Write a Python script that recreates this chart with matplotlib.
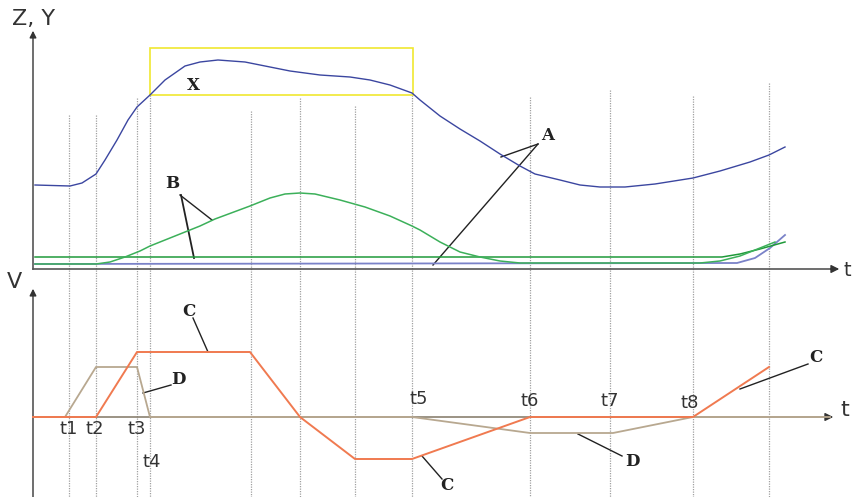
import numpy as np
import matplotlib
matplotlib.use("Agg")
import matplotlib.pyplot as plt

# time markers (pixel-scale x) and where each dotted guide starts
t_marks = [69, 96, 137, 150, 251, 300, 355, 412, 530, 610, 693, 769]
t_tops = [115, 115, 98, 95, 111, 98, 106, 95, 97, 90, 96, 83]

# upper panel curves (x, y)
x_curve_x = [35, 70, 82, 96, 105, 117, 128, 137, 150, 165, 185, 200, 218, 245, 270, 290,
             320, 350, 370, 390, 412, 420, 430, 440, 460, 480, 500, 520, 535, 560, 580,
             600, 625, 655, 693, 720, 750, 769, 785]
x_curve_y = [185, 186, 183, 174, 160, 140, 120, 107, 95, 80, 66, 62, 60, 62, 67, 71,
             75, 77, 80, 85, 93, 100, 108, 116, 129, 141, 154, 166, 174, 180, 185,
             187, 187, 184, 178, 171, 162, 155, 147]

b_curve_x = [35, 96, 110, 125, 140, 150, 175, 200, 215, 250, 270, 285, 300, 315, 340, 365,
             390, 412, 420, 440, 460, 480, 500, 520, 700, 720, 740, 760, 775]
b_curve_y = [264, 264, 262, 257, 251, 246, 236, 226, 219, 206, 198, 194, 193, 194, 200, 207,
             216, 226, 230, 242, 252, 257, 261, 263, 263, 261, 256, 248, 242]

b_flat_x = [35, 722, 740, 760, 785]
b_flat_y = [257, 257, 254, 249, 242]

a_flat_x = [35, 737, 755, 770, 785]
a_flat_y = [264, 263, 258, 248, 235]

# lower panel speed profiles
c_x = [33, 96, 137, 250, 300, 355, 412, 530, 693, 769]
c_y = [417, 417, 352, 352, 417, 459, 459, 417, 417, 367]
d_x = [33, 65, 96, 137, 150, 412, 530, 613, 693, 830]
d_y = [417, 417, 367, 367, 417, 417, 433, 433, 417, 417]

t_labels = ["t1", "t2", "t3", "t4", "t5", "t6", "t7", "t8"]
t_label_x = [69, 95, 137, 152, 419, 530, 610, 690]
t_label_y = [429, 429, 429, 462, 399, 401, 401, 403]

fig = plt.figure(figsize=(8.54, 4.97), dpi=100)
ax = fig.add_axes([0, 0, 1, 1])
ax.set_xlim(0, 854)
ax.set_ylim(497, 0)
ax.axis("off")

for x, top in zip(t_marks, t_tops):
    ax.plot([x, x], [top, 497], color="#a0a0a0", lw=0.9, ls=(0, (1, 1)), zorder=1)

# axes with arrows
axis_col = "#555555"
ax.plot([33, 33], [269, 35], color=axis_col, lw=1.2)
ax.annotate("", xy=(33, 28), xytext=(33, 40),
            arrowprops=dict(arrowstyle="-|>", color="#333333", lw=1.0, mutation_scale=10))
ax.plot([33, 832], [269, 269], color=axis_col, lw=1.2)
ax.annotate("", xy=(842, 269), xytext=(828, 269),
            arrowprops=dict(arrowstyle="-|>", color="#333333", lw=1.0, mutation_scale=12))
ax.plot([33, 33], [497, 293], color=axis_col, lw=1.2)
ax.annotate("", xy=(33, 286), xytext=(33, 298),
            arrowprops=dict(arrowstyle="-|>", color="#333333", lw=1.0, mutation_scale=10))
ax.plot([33, 826], [417, 417], color="#8a8070", lw=1.2)
ax.annotate("", xy=(836, 417), xytext=(822, 417),
            arrowprops=dict(arrowstyle="-|>", color="#333333", lw=1.0, mutation_scale=12))

ax.text(12, 19, "Z, Y", fontsize=16, color="#333333", va="center", ha="left")
ax.text(844, 270, "t", fontsize=14, color="#333333", va="center", ha="left")
ax.text(7, 282, "V", fontsize=16, color="#333333", va="center", ha="left")
ax.text(840, 410, "t", fontsize=16, color="#333333", va="center", ha="left")

# upper curves
ax.plot(a_flat_x, a_flat_y, color="#7a82c8", lw=1.3, zorder=3)
ax.plot(b_flat_x, b_flat_y, color="#1f9a3a", lw=1.1, zorder=3)
ax.plot(b_curve_x, b_curve_y, color="#3cb05a", lw=1.1, zorder=3)
ax.plot(x_curve_x, x_curve_y, color="#3b46a0", lw=1.0, zorder=3)

ax.add_patch(plt.Rectangle((150, 48), 263, 47, fill=False, edgecolor="#f0e830", lw=1.2, zorder=2))

serif = dict(family="DejaVu Serif", fontweight="bold", fontsize=12, color="#222222")
ax.text(193, 86, "X", ha="center", va="center", **serif)
ax.text(172, 184, "B", ha="center", va="center", **serif)
ax.plot([180, 212], [195, 220], color="#222222", lw=1.0)
ax.plot([181, 194], [195, 258], color="#222222", lw=1.3)
ax.text(548, 135, "A", ha="center", va="center", **serif)
ax.plot([538, 501], [144, 157], color="#222222", lw=1.0)
ax.plot([538, 433], [144, 265], color="#222222", lw=1.0)

# lower curves
ax.plot(d_x, d_y, color="#b8a890", lw=1.3, zorder=3)
ax.plot(c_x, c_y, color="#f07a50", lw=1.4, zorder=4)

ax.text(189, 311, "C", ha="center", va="center", **serif)
ax.plot([193, 208], [318, 352], color="#222222", lw=1.0)
ax.text(178, 379, "D", ha="center", va="center", **serif)
ax.plot([171, 143], [385, 393], color="#222222", lw=1.0)
ax.text(447, 485, "C", ha="center", va="center", **serif)
ax.plot([442, 422], [479, 456], color="#222222", lw=1.0)
ax.text(632, 462, "D", ha="center", va="center", **serif)
ax.plot([622, 578], [456, 434], color="#222222", lw=1.0)
ax.text(816, 357, "C", ha="center", va="center", **serif)
ax.plot([808, 740], [364, 389], color="#222222", lw=1.0)

for lab, lx, ly in zip(t_labels, t_label_x, t_label_y):
    ax.text(lx, ly, lab, fontsize=13, color="#333333", ha="center", va="center")

fig.savefig("out.png", dpi=100)
